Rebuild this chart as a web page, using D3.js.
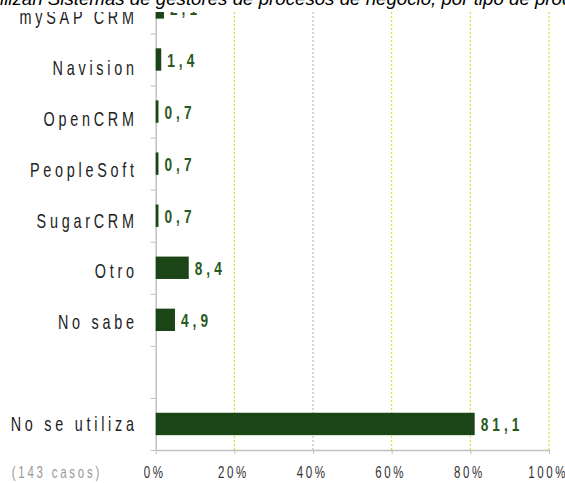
<!DOCTYPE html>
<html>
<head>
<meta charset="utf-8">
<script src="https://cdn.jsdelivr.net/npm/d3@7"></script>
<style>
  body { margin: 0; background: #fff; }
  svg { display: block; }
  .title { font-family: "Liberation Sans", Arial, sans-serif; font-style: italic; font-size: 18.7px; fill: #000; }
  .cat { font-family: "Liberation Sans", Arial, sans-serif; font-size: 20px; letter-spacing: 5.2px; fill: #222; }
  .val { font-family: "Liberation Sans", Arial, sans-serif; font-size: 19px; font-weight: bold; letter-spacing: 5.6px; fill: #2a5a22; }
  .note { font-family: "Liberation Sans", Arial, sans-serif; font-size: 16px; letter-spacing: 3.8px; fill: #9a9a9a; }
  .x.axis text { font-family: "Liberation Sans", Arial, sans-serif; font-size: 16px; letter-spacing: 3.6px; fill: #333; }
  .axis path, .axis line { stroke: #c0c0c0; }
</style>
</head>
<body>
<div id="chart"></div>
<script>
var title = "Empresas que utilizan Sistemas de gestores de procesos de negocio, por tipo de producto";
var note = "(143 casos)";
var categories = ["mySAP CRM", "Navision", "OpenCRM", "PeopleSoft", "SugarCRM", "Otro", "No sabe", "", "No se utiliza"];
var values = [2.1, 1.4, 0.7, 0.7, 0.7, 8.4, 4.9, null, 81.1];
var xTicks = [0, 20, 40, 60, 80, 100];

var width = 565, height = 483;
var plotTop = 12, plotBottom = 450;
var narrow = "scale(0.72,1)"; // the chart uses a condensed face

var data = categories.map(function(c, i) {
  return { cat: c, value: values[i] };
});

var svg = d3.select("#chart")
  .append("svg")
  .attr("width", width)
  .attr("height", height);

svg.append("clipPath")
  .attr("id", "plotclip")
  .append("rect")
  .attr("x", 0)
  .attr("y", plotTop)
  .attr("width", width)
  .attr("height", height - plotTop);

var chart = svg.append("g").attr("clip-path", "url(#plotclip)");

var xScale = d3.scaleLinear()
  .domain([0, 100])
  .range([155.7, 549]);

var yScale = d3.scaleBand()
  .domain(categories)
  .range([-18.6, plotBottom])
  .paddingInner(0.57)
  .paddingOuter(0.285);

// category edges for the left axis ticks
var yEdge = d3.scaleLinear()
  .domain([0, categories.length])
  .range([-18.6, plotBottom]);

// the category texts sit on a slightly tighter spacing than the bars
var yLabel = d3.scalePoint()
  .domain(categories)
  .range([24, 431]);

var fmt = function(v) { return d3.format(".1f")(v).replace(".", ","); };

// gridlines
chart.selectAll(".grid")
  .data(xTicks.filter(function(t) { return t > 0; }))
  .enter().append("line")
  .attr("class", "grid")
  .attr("x1", function(d) { return xScale(d); })
  .attr("x2", function(d) { return xScale(d); })
  .attr("y1", plotTop)
  .attr("y2", plotBottom)
  .attr("stroke", function(d) { return d === 40 ? "#aab0aa" : "#c6dc12"; })
  .attr("stroke-width", 1)
  .attr("stroke-dasharray", "2,2");

// y axis
chart.append("g")
  .attr("class", "y axis")
  .attr("transform", "translate(" + xScale(0) + ",0)")
  .call(d3.axisLeft(yEdge)
    .tickValues(d3.range(1, categories.length + 1))
    .tickSize(5)
    .tickSizeOuter(0)
    .tickFormat(""))
  .select(".domain").attr("stroke-width", 1.5);

// x axis
var xAxis = chart.append("g")
  .attr("class", "x axis")
  .attr("transform", "translate(0," + plotBottom + ")")
  .call(d3.axisBottom(xScale)
    .tickValues(xTicks)
    .tickSize(4)
    .tickSizeOuter(0)
    .tickFormat(function(d) { return d + "%"; }));
xAxis.select(".domain").attr("stroke-width", 1.5);
xAxis.selectAll("text")
  .attr("y", 17)
  .attr("x", -2)
  .attr("transform", narrow);

// bars
chart.selectAll(".bar")
  .data(data.filter(function(d) { return d.value != null; }))
  .enter().append("rect")
  .attr("class", "bar")
  .attr("x", xScale(0))
  .attr("y", function(d) { return yScale(d.cat); })
  .attr("width", function(d) { return xScale(d.value) - xScale(0); })
  .attr("height", yScale.bandwidth())
  .attr("fill", "#1b4417");

// value labels
chart.selectAll(".val")
  .data(data.filter(function(d) { return d.value != null; }))
  .enter().append("g")
  .attr("transform", function(d) {
    return "translate(" + (xScale(d.value) + 6) + "," + (yScale(d.cat) + yScale.bandwidth() / 2 + 7.5) + ") " + narrow;
  })
  .append("text")
  .attr("class", "val")
  .text(function(d) { return fmt(d.value); });

// category labels
chart.selectAll(".cat")
  .data(categories)
  .enter().append("g")
  .attr("transform", function(d) { return "translate(137.7," + yLabel(d) + ") " + narrow; })
  .append("text")
  .attr("class", "cat")
  .attr("text-anchor", "end")
  .text(function(d) { return d; });

chart.append("g")
  .attr("transform", "translate(11.7,478) " + narrow)
  .append("text")
  .attr("class", "note")
  .text(note);

// title, wider than the picture: only the middle part shows
var titleText = svg.append("text")
  .attr("class", "title")
  .attr("y", 5)
  .text(title);
var prefix = titleText.node().getSubStringLength(0, title.indexOf("ilizan"));
titleText.attr("x", -prefix);
</script>
</body>
</html>
